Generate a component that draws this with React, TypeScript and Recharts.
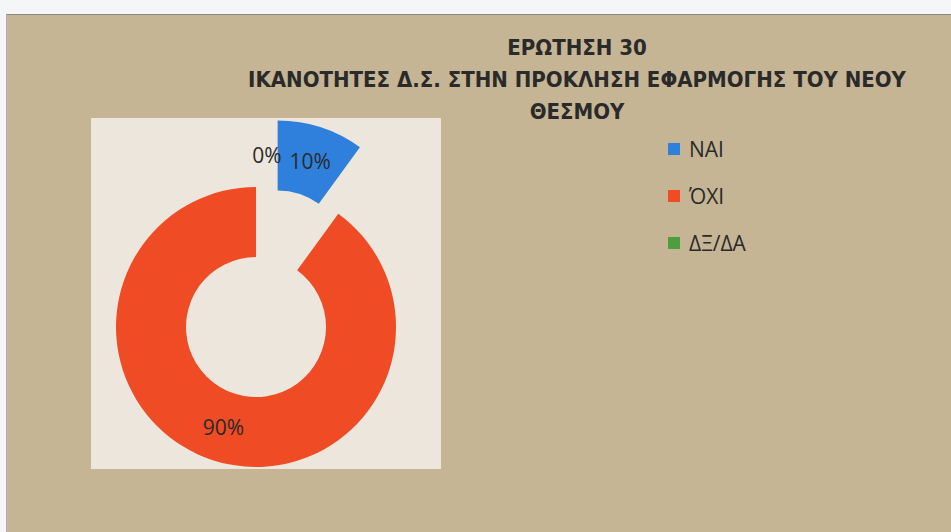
import { Legend, Pie, PieChart, Cell } from "recharts";

const CATEGORIES = ["ΝΑΙ", "ΌΧΙ", "ΔΞ/ΔΑ"];
const VALUES = [10, 90, 0];
const TITLE_LINES = [
  "ΕΡΩΤΗΣΗ 30",
  "ΙΚΑΝΟΤΗΤΕΣ Δ.Σ. ΣΤΗΝ ΠΡΟΚΛΗΣΗ ΕΦΑΡΜΟΓΗΣ ΤΟΥ ΝΕΟΥ",
  "ΘΕΣΜΟΥ",
];

const COLORS = ["#2f80dc", "#ef4b24", "#4b9f3d"];
const PAGE_BG = "#f4f6f8";
const CHART_BG = "#c5b594";
const PLOT_BG = "#ece6dc";
const TEXT_COLOR = "#2a2a2a";

const CHART_LEFT = 6;
const CHART_TOP = 14;
const CHART_WIDTH = 945;
const CHART_HEIGHT = 518;

const PIE_CX = 249;
const PIE_CY = 312;
const INNER_RADIUS = 70;
const OUTER_RADIUS = 140;
const EXPLODE = 70;
const LABEL_FONT = 21;
const RADIAN = Math.PI / 180;

const data = CATEGORIES.map((name, i) => ({ name, value: VALUES[i] }));
const total = VALUES.reduce((a, b) => a + b, 0);

// the first slice is pulled out along its own mid angle
const explodeAngle = (VALUES[0] / total) * 180; // degrees clockwise from top
const explodedCx = PIE_CX + EXPLODE * Math.sin(explodeAngle * RADIAN);
const explodedCy = PIE_CY - EXPLODE * Math.cos(explodeAngle * RADIAN);

function makeLabel(shown: number[]) {
  return (props: any) => {
    const { cx, cy, midAngle, innerRadius, outerRadius, percent, index } = props;
    if (!shown.includes(index)) return null;
    const r = (innerRadius + outerRadius) / 2;
    let x = cx + r * Math.cos(-midAngle * RADIAN);
    const y = cy + r * Math.sin(-midAngle * RADIAN);
    const isZero = VALUES[index] === 0;
    if (isZero) x += 4;
    return (
      <text
        x={x}
        y={y}
        fill={TEXT_COLOR}
        fontSize={LABEL_FONT}
        fontFamily="'Open Sans', sans-serif"
        textAnchor={isZero ? "end" : "middle"}
        dominantBaseline="central"
      >
        {`${Math.round(percent * 100)}%`}
      </text>
    );
  };
}

function LegendContent() {
  return (
    <div>
      {CATEGORIES.map((name, i) => (
        <div
          key={name}
          style={{ display: "flex", alignItems: "center", height: 47 }}
        >
          <span
            style={{
              width: 12,
              height: 12,
              background: COLORS[i],
              marginRight: 9,
              display: "inline-block",
            }}
          />
          <span
            style={{
              fontFamily: "'Open Sans', sans-serif",
              fontSize: 21,
              color: TEXT_COLOR,
            }}
          >
            {name}
          </span>
        </div>
      ))}
    </div>
  );
}

export default function App() {
  return (
    <div
      style={{
        position: "fixed",
        left: 0,
        top: 0,
        width: 951,
        height: 532,
        background: PAGE_BG,
        overflow: "hidden",
      }}
    >
      <div
        style={{
          position: "absolute",
          left: CHART_LEFT,
          top: CHART_TOP,
          width: CHART_WIDTH,
          height: CHART_HEIGHT,
          background: CHART_BG,
          borderTop: "1px solid #8a8a8a",
          borderLeft: "1px solid #b0b0b0",
          boxSizing: "border-box",
        }}
      >
        <div
          style={{
            position: "absolute",
            left: 84,
            top: 103,
            width: 350,
            height: 351,
            background: PLOT_BG,
          }}
        />
        {TITLE_LINES.map((line, i) => (
          <div
            key={line}
            style={{
              position: "absolute",
              left: 570 - 400,
              width: 800,
              top: 18 + i * 32,
              textAlign: "center",
              fontFamily: "'DejaVu Sans Condensed', sans-serif",
              fontWeight: 700,
              fontSize: 22,
              lineHeight: "30px",
              color: TEXT_COLOR,
              whiteSpace: "nowrap",
            }}
          >
            {line}
          </div>
        ))}
        <div style={{ position: "absolute", left: 0, top: 0 }}>
          <PieChart
            width={CHART_WIDTH}
            height={CHART_HEIGHT}
            margin={{ top: 0, right: 0, bottom: 0, left: 0 }}
          >
            <Pie
              data={data}
              dataKey="value"
              nameKey="name"
              cx={PIE_CX}
              cy={PIE_CY}
              innerRadius={INNER_RADIUS}
              outerRadius={OUTER_RADIUS}
              startAngle={90}
              endAngle={-270}
              stroke="none"
              isAnimationActive={false}
              labelLine={false}
              label={makeLabel([1])}
            >
              {data.map((d, i) => (
                <Cell key={d.name} fill={i === 0 ? "transparent" : COLORS[i]} />
              ))}
            </Pie>
            <Pie
              data={data}
              dataKey="value"
              nameKey="name"
              cx={explodedCx}
              cy={explodedCy}
              innerRadius={INNER_RADIUS}
              outerRadius={OUTER_RADIUS}
              startAngle={90}
              endAngle={-270}
              stroke="none"
              isAnimationActive={false}
              labelLine={false}
              label={makeLabel([0, 2])}
            >
              {data.map((d, i) => (
                <Cell key={d.name} fill={i === 0 ? COLORS[i] : "transparent"} />
              ))}
            </Pie>
            <Legend
              content={<LegendContent />}
              layout="vertical"
              verticalAlign="top"
              align="right"
              wrapperStyle={{ left: 661, top: 110, width: 200 }}
            />
          </PieChart>
        </div>
      </div>
    </div>
  );
}
